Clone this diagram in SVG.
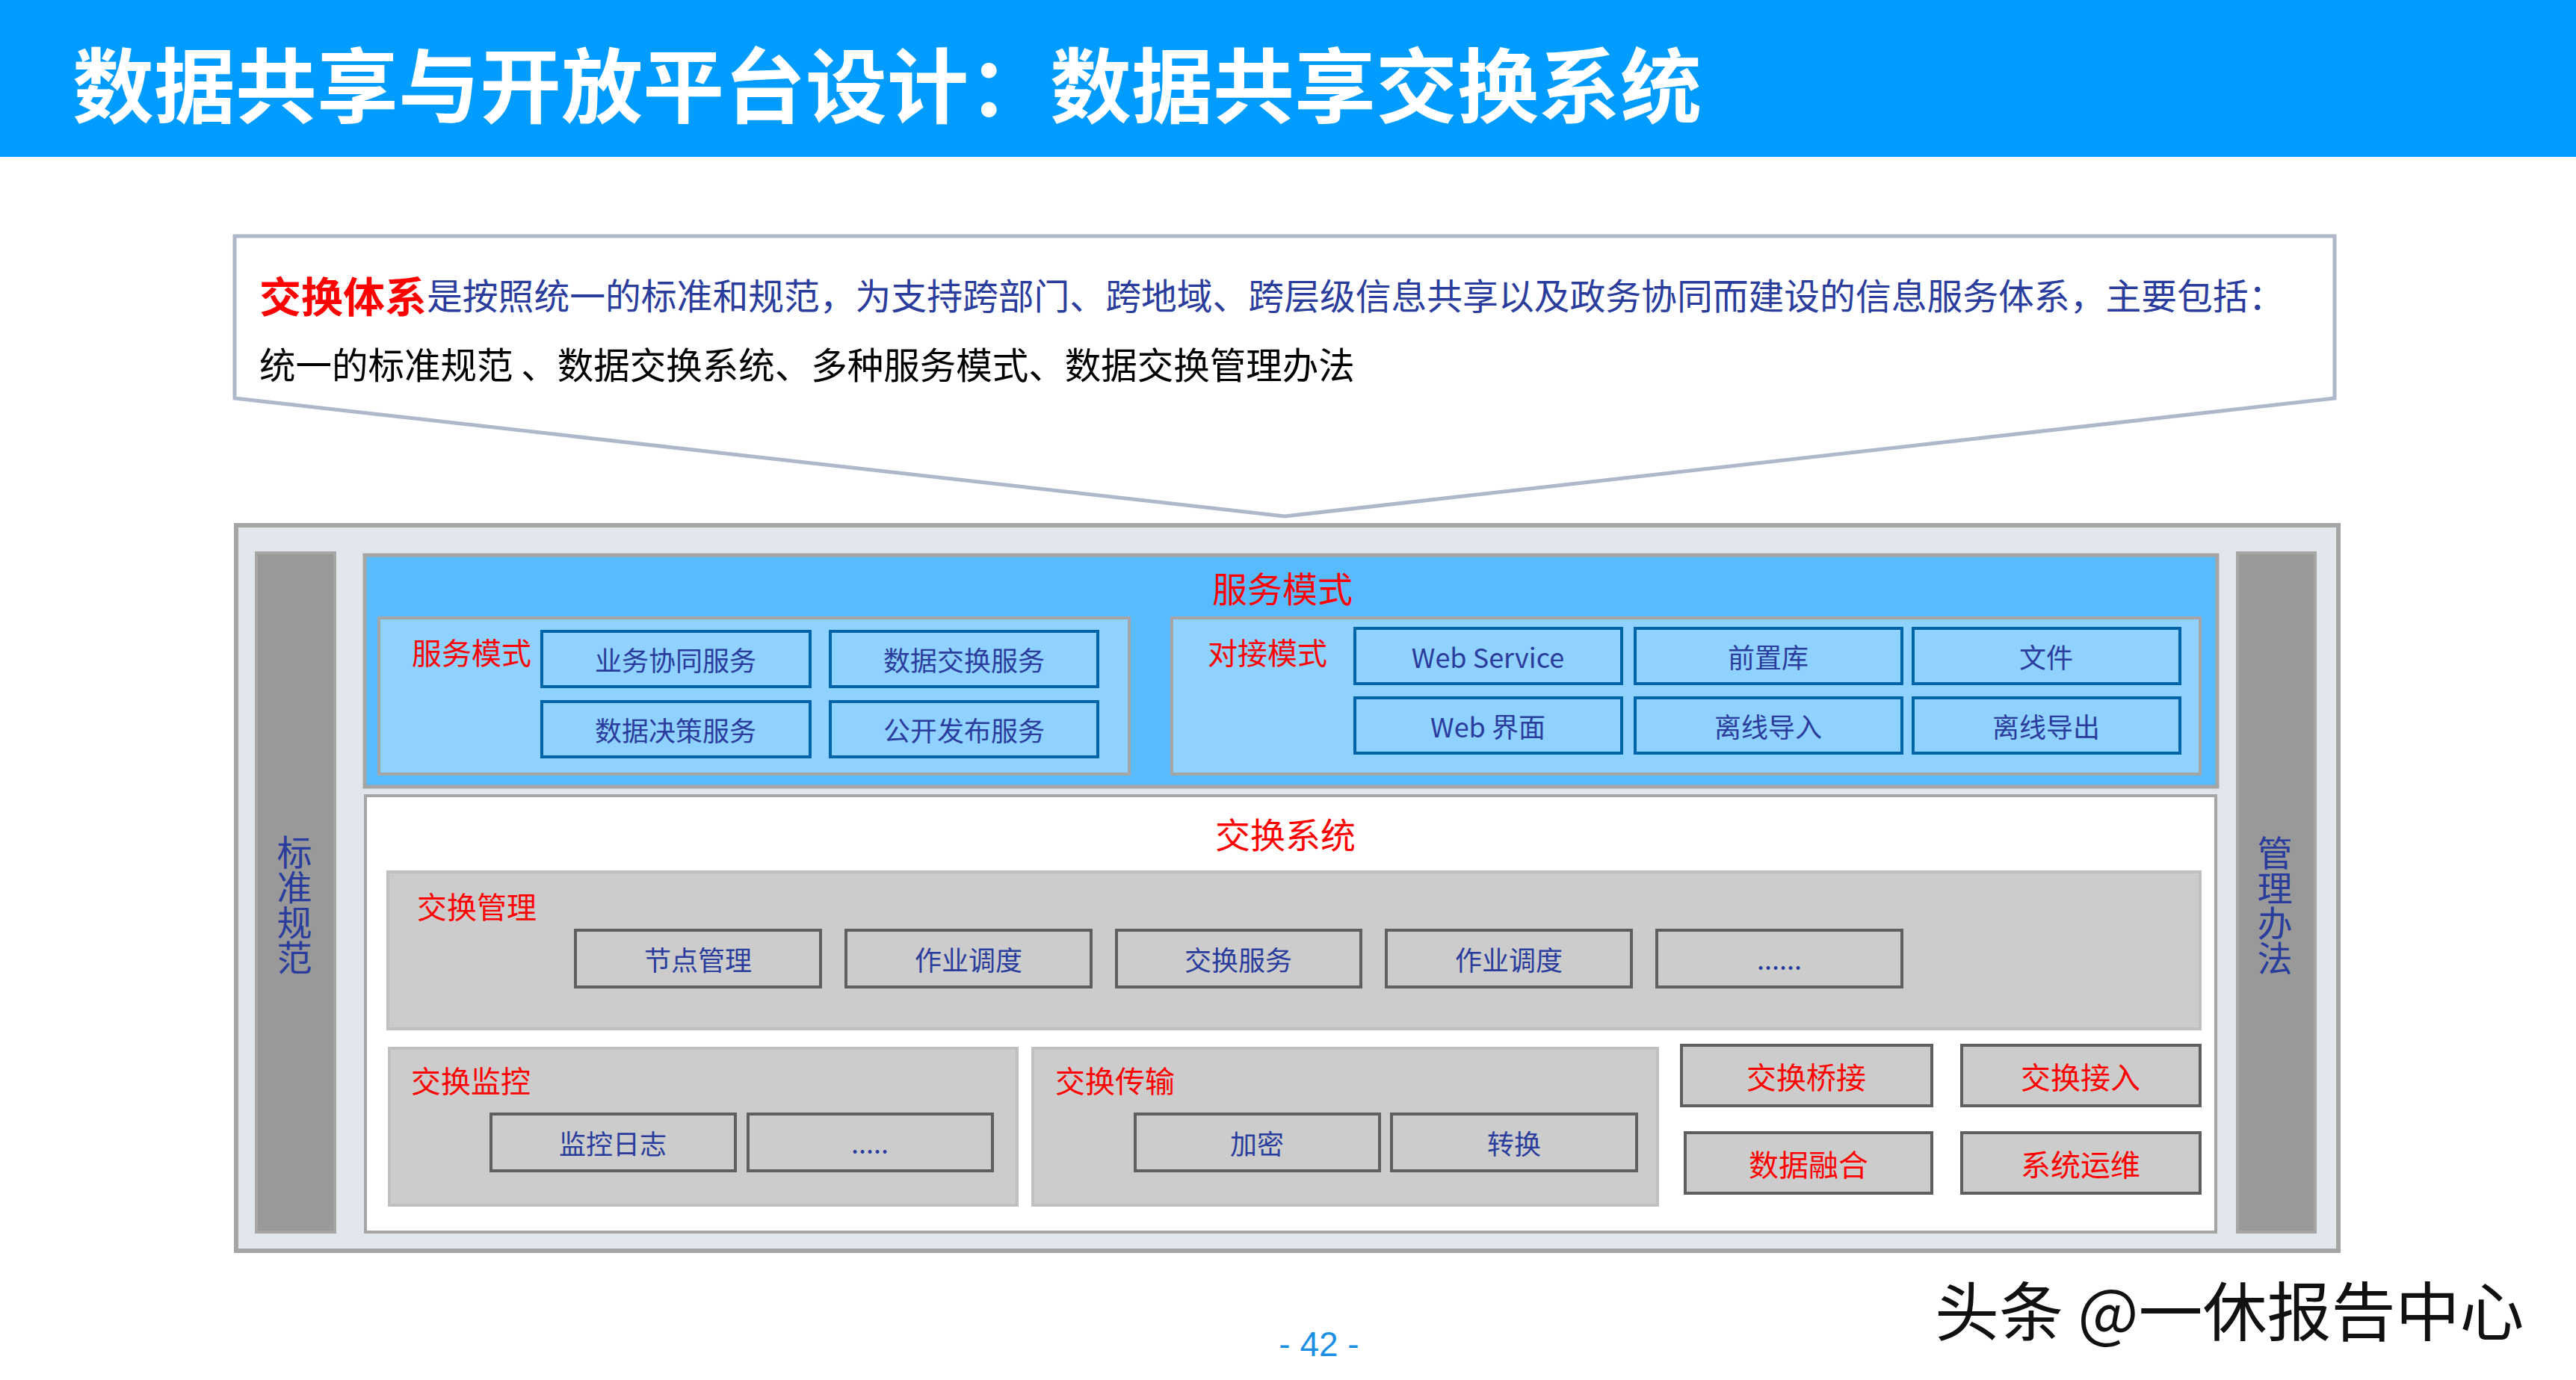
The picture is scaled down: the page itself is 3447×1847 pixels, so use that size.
<svg xmlns="http://www.w3.org/2000/svg" width="3447" height="1847" viewBox="0 0 3447 1847">
<style>
text{font-family:"Noto Sans CJK SC","Noto Sans",sans-serif;}
.bt{fill:#2A3C9C;font-size:36px;text-anchor:middle;dominant-baseline:central;}
.rt{fill:#FF0000;font-size:40px;dominant-baseline:central;}
.rb{fill:#FF0000;font-size:40px;text-anchor:middle;dominant-baseline:central;}
.vt{fill:#2A3C9C;font-size:47px;text-anchor:middle;writing-mode:vertical-rl;}
.bbox{fill:#8FD1FF;stroke:#0065A8;stroke-width:4;}
.gbox{fill:#CCCCCC;stroke:#5F5F5F;stroke-width:4;}
.gpanel{fill:#CCCCCC;stroke:#BFBFBF;stroke-width:4;}
.bpanel{fill:#8FD1FF;stroke:#A5A5A5;stroke-width:4;}
.sidebar{fill:#999999;stroke:#A5A5A5;stroke-width:4;}
</style>
<rect x="0" y="0" width="3447" height="1847" fill="#FFFFFF"/>
<g id="title">
<rect x="0" y="0" width="3447" height="210" fill="#009CFF"/>
<text x="97" y="108" font-size="109" font-weight="700" fill="#FFFFFF" dominant-baseline="central">数据共享与开放平台设计：数据共享交换系统</text>
</g>
<g id="callout">
<path d="M314,316 L3124,316 L3124,533 L1719,691 L314,533 Z" fill="#FFFFFF" stroke="#ADB9CA" stroke-width="5"/>
<text y="393" dominant-baseline="central"><tspan x="347" fill="#FF0000" font-size="56" font-weight="700">交换体系</tspan><tspan fill="#2A3C9C" font-size="47.8">是按照统一的标准和规范，为支持跨部门、跨地域、跨层级信息共享以及政务协同而建设的信息服务体系，主要包括：</tspan></text>
<text x="347" y="486" font-size="48.5" fill="#000000" dominant-baseline="central">统一的标准规范 、数据交换系统、多种服务模式、数据交换管理办法</text>
</g>
<g id="container">
<rect x="316" y="703" width="2813" height="971" fill="#E1E6EC" stroke="#A5A5A5" stroke-width="6"/>
</g>
<g id="standard">
<rect x="343" y="740" width="105" height="909" class="sidebar"/>
<text x="394" y="1211" class="vt">标准规范</text>
</g>
<g id="management">
<rect x="2994" y="740" width="104" height="909" class="sidebar"/>
<text x="3044" y="1212" class="vt">管理办法</text>
</g>
<g id="service-band">
<rect x="488" y="743" width="2479" height="310" fill="#59BBFF" stroke="#A5A5A5" stroke-width="5"/>
<text x="1716" y="785" fill="#FF0000" font-size="47" text-anchor="middle" dominant-baseline="central">服务模式</text>
</g>
<g id="service-mode">
<rect x="507" y="827" width="1004" height="209" class="bpanel"/>
<text x="551" y="872" class="rt">服务模式</text>
<rect x="725" y="845" width="359" height="74" class="bbox"/>
<text x="904" y="882" class="bt">业务协同服务</text>
<rect x="1111" y="845" width="358" height="74" class="bbox"/>
<text x="1290" y="882" class="bt">数据交换服务</text>
<rect x="725" y="939" width="359" height="74" class="bbox"/>
<text x="904" y="976" class="bt">数据决策服务</text>
<rect x="1111" y="939" width="358" height="74" class="bbox"/>
<text x="1290" y="976" class="bt">公开发布服务</text>
</g>
<g id="docking-mode">
<rect x="1568" y="827" width="1376" height="209" class="bpanel"/>
<text x="1616" y="872" class="rt">对接模式</text>
<rect x="1813" y="841" width="357" height="74" class="bbox"/>
<text x="1991" y="878" class="bt">Web Service</text>
<rect x="2188" y="841" width="357" height="74" class="bbox"/>
<text x="2366" y="878" class="bt">前置库</text>
<rect x="2560" y="841" width="357" height="74" class="bbox"/>
<text x="2738" y="878" class="bt">文件</text>
<rect x="1813" y="934" width="357" height="74" class="bbox"/>
<text x="1991" y="971" class="bt">Web 界面</text>
<rect x="2188" y="934" width="357" height="74" class="bbox"/>
<text x="2366" y="971" class="bt">离线导入</text>
<rect x="2560" y="934" width="357" height="74" class="bbox"/>
<text x="2738" y="971" class="bt">离线导出</text>
</g>
<g id="exchange-system">
<rect x="489" y="1065" width="2476" height="584" fill="#FFFFFF" stroke="#A5A5A5" stroke-width="4"/>
<text x="1720" y="1114" fill="#FF0000" font-size="47" text-anchor="middle" dominant-baseline="central">交换系统</text>
</g>
<g id="exchange-management">
<rect x="519" y="1167" width="2425" height="210" class="gpanel"/>
<text x="558" y="1212" class="rt">交换管理</text>
<rect x="770" y="1245" width="328" height="76" class="gbox"/>
<text x="934" y="1283" class="bt">节点管理</text>
<rect x="1132" y="1245" width="328" height="76" class="gbox"/>
<text x="1296" y="1283" class="bt">作业调度</text>
<rect x="1494" y="1245" width="327" height="76" class="gbox"/>
<text x="1657" y="1283" class="bt">交换服务</text>
<rect x="1855" y="1245" width="328" height="76" class="gbox"/>
<text x="2019" y="1283" class="bt">作业调度</text>
<rect x="2217" y="1245" width="328" height="76" class="gbox"/>
<text x="2381" y="1298" fill="#2A3C9C" font-size="36" text-anchor="middle">......</text>
</g>
<g id="exchange-monitor">
<rect x="521" y="1403" width="840" height="210" class="gpanel"/>
<text x="550" y="1445" class="rt">交换监控</text>
<rect x="657" y="1491" width="327" height="76" class="gbox"/>
<text x="820" y="1529" class="bt">监控日志</text>
<rect x="1001" y="1491" width="327" height="76" class="gbox"/>
<text x="1164" y="1544" fill="#2A3C9C" font-size="36" text-anchor="middle">.....</text>
</g>
<g id="exchange-transport">
<rect x="1382" y="1403" width="836" height="210" class="gpanel"/>
<text x="1412" y="1445" class="rt">交换传输</text>
<rect x="1519" y="1491" width="327" height="76" class="gbox"/>
<text x="1682" y="1529" class="bt">加密</text>
<rect x="1862" y="1491" width="328" height="76" class="gbox"/>
<text x="2026" y="1529" class="bt">转换</text>
</g>
<g id="exchange-bridge">
<rect x="2250" y="1399" width="335" height="81" class="gbox"/>
<text x="2417" y="1440" class="rb">交换桥接</text>
</g>
<g id="exchange-access">
<rect x="2625" y="1399" width="319" height="81" class="gbox"/>
<text x="2784" y="1440" class="rb">交换接入</text>
</g>
<g id="data-fusion">
<rect x="2255" y="1516" width="330" height="81" class="gbox"/>
<text x="2420" y="1557" class="rb">数据融合</text>
</g>
<g id="system-ops">
<rect x="2625" y="1516" width="319" height="81" class="gbox"/>
<text x="2784" y="1557" class="rb">系统运维</text>
</g>
<g id="connectors"></g>
<g id="footer">
<text x="1765" y="1815" font-size="46" fill="#1A8FE3" text-anchor="middle" style="font-family:'Liberation Sans',sans-serif">- 42 -</text>
<text x="2589" y="1788" font-size="86" fill="#111111" stroke="#FFFFFF" stroke-width="2" paint-order="stroke">头条 @一休报告中心</text>
</g>
</svg>
